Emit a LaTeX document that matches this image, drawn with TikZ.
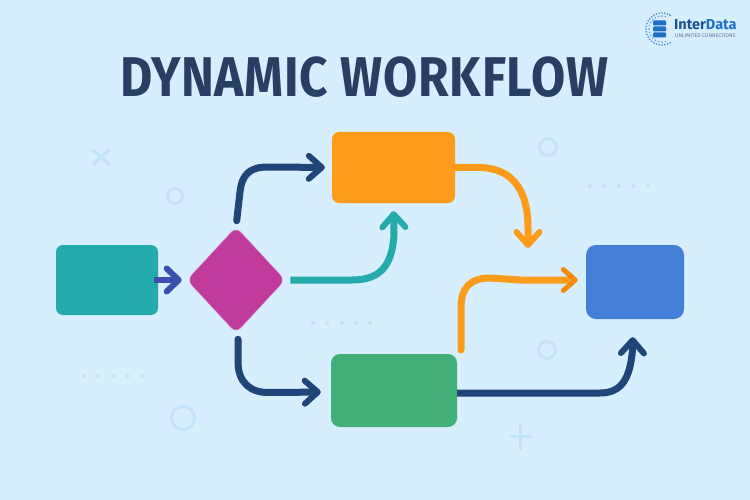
\documentclass[tikz,border=0pt]{standalone}
\usepackage{fontspec}
\setmainfont{Fira Sans}
\newfontfamily\titlefont[LetterSpace=1.5]{Fira Sans}
\usetikzlibrary{arrows.meta,shapes.geometric}
\definecolor{bgc}{HTML}{D6EEFE}
\definecolor{decoc}{HTML}{C3E3F8}
\definecolor{tealc}{HTML}{25ABAC}
\definecolor{magc}{HTML}{C03B9B}
\definecolor{orc}{HTML}{FD9C1B}
\definecolor{orc2}{HTML}{F68A12}
\definecolor{grc}{HTML}{41AF77}
\definecolor{bluc}{HTML}{437ED7}
\definecolor{navc}{HTML}{214579}
\definecolor{indc}{HTML}{3B4FB0}
\definecolor{titc}{HTML}{263F63}
\definecolor{logoc}{HTML}{1F6FC8}
\tikzset{
  boxn/.style={draw=none,rounded corners=7pt,inner sep=0pt},
  flow/.style={line width=7pt,line cap=round,line join=round,
    -{Straight Barb[round,length=13pt,width=23pt,line width=6pt]}},
  deco/.style={draw=decoc,line width=3pt,fill=none},
  dotn/.style={fill=decoc,draw=none},
}
\begin{document}
\begin{tikzpicture}[x=1pt,y=-1pt]
\useasboundingbox (0,0) rectangle (750,500);
\fill[bgc] (0,0) rectangle (750,500);

% decoration
\draw[decoc,line width=3.5pt] (93,150)--(110,165) (110,149)--(93,165);
\draw[deco] (175,196) circle (7.5);
\draw[deco] (183,418) circle (11.5);
\draw[deco] (548,147) circle (8.5);
\draw[deco] (547,350) circle (8.5);
\draw[decoc,line width=3.5pt] (509,436.5)--(532,436.5) (520.5,424)--(520.5,450);
\foreach \xa in {84,98.5,113,127.5,142} \fill[dotn] (\xa,376) circle (2);
\foreach \xa in {313,327.5,342,356,370} \fill[dotn] (\xa,323) circle (2);
\foreach \xa in {590,604.5,619,633.5,648} \fill[dotn] (\xa,186) circle (2);

% title
\node[inner sep=0pt,text=titc] (title) at (364,77.5) {\scalebox{0.885}[1]{\titlefont\fontsize{56}{56}\selectfont\bfseries DYNAMIC WORKFLOW}};

% logo
\foreach \ang in {60,70,...,300} \fill[logoc!80!bgc] ({662+16*cos(\ang)},{29+16*sin(\ang)}) circle (0.9);
\foreach \ang in {75,90,...,285} \fill[logoc!70!bgc] ({662+13*cos(\ang)},{29+13*sin(\ang)}) circle (0.8);
\foreach \yb in {20.5,26.5,32.5} \fill[logoc,rounded corners=1pt] (653,\yb) rectangle (666,\yb+5);
\node[inner sep=0pt,anchor=west,text=navc!70!logoc] (logotext) at (674,25) {\fontsize{14.5}{14.5}\selectfont\bfseries Inter\textcolor{logoc}{Data}};
\node[inner sep=0pt,anchor=west,text=navc!70!bgc] (logosub) at (675,36) {\fontsize{5.2}{5.2}\selectfont UNLIMITED CONNECTIONS};

% nodes
\node[boxn,fill=tealc,minimum width=102pt,minimum height=70pt] (start) at (107,280) {};
\node[draw=magc!70!white,line width=0.6pt,fill=magc,shape=diamond,aspect=0.92,rounded corners=7pt,inner sep=0pt,minimum width=98pt,minimum height=106pt] (dec) at (236,280) {};
\node[boxn,fill=orc,minimum width=123pt,minimum height=71pt] (top) at (393.5,167.5) {};
\node[boxn,fill=grc,rounded corners=9pt,minimum width=126pt,minimum height=73pt] (bot) at (394,390.5) {};
\node[boxn,fill=bluc,rounded corners=10pt,minimum width=98pt,minimum height=74pt] (end) at (635,282) {};
\coordinate (forkA) at (461,350);
\coordinate (dropA) at (528,248);

% connectors
\draw[flow,draw=indc,line width=6pt,line cap=butt,-{Straight Barb[round,length=12pt,width=23pt,line width=6pt]}]
  ([xshift=-4pt]start.east) -- ([xshift=-5pt]dec.west);
\draw[flow,draw=navc,shorten <=6pt,shorten >=7pt]
  (dec.north) -- (240,192) .. controls (242,174) and (250,167) .. (268,167) -- (top.west);
\draw[flow,draw=navc,shorten <=6pt,shorten >=10pt]
  ([xshift=2pt]dec.south) -- (238,362) .. controls (238,382) and (250,392.5) .. (268,392.5) -- ([yshift=-1.5pt]bot.west);
\draw[flow,draw=tealc,line cap=butt,shorten <=5pt,shorten >=8pt]
  (dec.east) -- (352,280) .. controls (380,280) and (392,266) .. (394,235) -- (top.south);
\draw[flow,draw=orc,line cap=butt]
  (top.east) -- (478,167.5) .. controls (510,167.5) and (528,187) .. (528,228) -- (dropA);
\draw[flow,draw=orc,-{Straight Barb[round,length=12pt,width=21pt,line width=5pt,color=orc2]},shorten >=8pt]
  (forkA) -- (461,308) .. controls (461,288) and (470,278) .. (490,278) -- (520,280) -- ([yshift=2pt]end.west);
\draw[flow,draw=navc,line cap=butt,shorten >=18pt]
  ([yshift=-2.5pt]bot.east) -- (600,393) .. controls (622,393) and (630,378) .. (632.5,350) -- ([xshift=-2pt]end.south);
\end{tikzpicture}
\end{document}
